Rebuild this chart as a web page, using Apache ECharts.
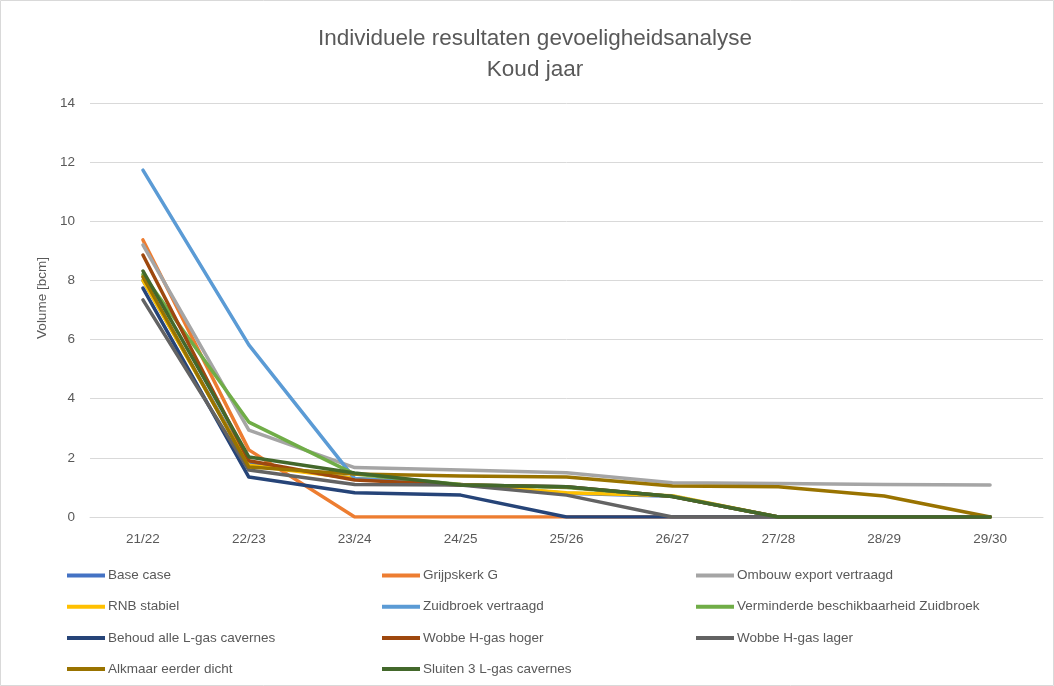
<!DOCTYPE html>
<html>
<head>
<meta charset="utf-8">
<script src="https://cdn.jsdelivr.net/npm/echarts@6/dist/echarts.min.js"></script>
<style>html,body{margin:0;padding:0;background:#fff}#c{width:1054px;height:686px}</style>
</head>
<body>
<div id="c"></div>
<script>
const categories = ['21/22','22/23','23/24','24/25','25/26','26/27','27/28','28/29','29/30'];
const seriesNames = ['Base case','Grijpskerk G','Ombouw export vertraagd','RNB stabiel','Zuidbroek vertraagd','Verminderde beschikbaarheid Zuidbroek','Behoud alle L-gas cavernes','Wobbe H-gas hoger','Wobbe H-gas lager','Alkmaar eerder dicht','Sluiten 3 L-gas cavernes'];
const baseCase      = [8.0, 1.8, 1.3, 1.1, 0.8, 0.7, 0, 0, 0];
const grijpskerk    = [9.37, 2.27, 0, 0, 0, 0, 0, 0, 0];
const ombouw        = [9.2, 2.94, 1.67, 1.59, 1.5, 1.16, 1.13, 1.1, 1.08];
const rnbStabiel    = [8.0, 1.75, 1.3, 1.1, 0.82, 0.72, 0, 0, 0];
const zuidbroek     = [11.73, 5.82, 1.3, 1.08, 1.02, 0.69, 0, 0, 0];
const verminderde   = [8.2, 3.21, 1.45, 1.1, 1.0, 0.7, 0, 0, 0];
const behoud        = [7.74, 1.35, 0.82, 0.74, 0, 0, 0, 0, 0];
const wobbeHoger    = [8.86, 1.9, 1.25, 1.08, 1.02, 0.69, 0, 0, 0];
const wobbeLager    = [7.34, 1.59, 1.1, 1.08, 0.74, 0, 0, 0, 0];
const alkmaar       = [8.12, 1.69, 1.45, 1.39, 1.35, 1.05, 1.02, 0.71, 0];
const sluiten       = [8.32, 2.03, 1.49, 1.08, 1.02, 0.69, 0, 0, 0];
const yTicks = [0, 2, 4, 6, 8, 10, 12, 14];

const allData = [baseCase, grijpskerk, ombouw, rnbStabiel, zuidbroek, verminderde, behoud, wobbeHoger, wobbeLager, alkmaar, sluiten];
const colors = ['#4472C4','#ED7D31','#A5A5A5','#FFC000','#5B9BD5','#70AD47','#264478','#9E480E','#636363','#997300','#43682B'];
const font = 'Liberation Sans';

const chart = echarts.init(document.getElementById('c'));
const legendCommon = {
  orient: 'vertical', top: 568, padding: 0, icon: 'rect', itemWidth: 38, itemHeight: 4, itemGap: 16.2,
  selectedMode: false,
  textStyle: { color: '#595959', fontFamily: font, fontSize: 13.5, lineHeight: 15, padding: [0,0,0,-2] }
};
chart.setOption({
  animation: false,
  color: colors,
  title: {
    text: 'Individuele resultaten gevoeligheidsanalyse\nKoud jaar',
    left: 530, top: 18, padding: 5, textAlign: 'center',
    textStyle: { color: '#595959', fontFamily: font, fontSize: 22.5, fontWeight: 'normal', lineHeight: 31 }
  },
  legend: [
    Object.assign({ left: 67, data: [seriesNames[0], seriesNames[3], seriesNames[6], seriesNames[9]] }, legendCommon),
    Object.assign({ left: 382, data: [seriesNames[1], seriesNames[4], seriesNames[7], seriesNames[10]] }, legendCommon),
    Object.assign({ left: 696, data: [seriesNames[2], seriesNames[5], seriesNames[8]] }, legendCommon)
  ],
  grid: { left: 90, right: 11, top: 103, bottom: 169 },
  xAxis: {
    type: 'category', data: categories, boundaryGap: true,
    axisLine: { lineStyle: { color: '#D9D9D9', width: 1 } },
    axisTick: { show: false },
    axisLabel: { color: '#595959', fontFamily: font, fontSize: 13.5, margin: 15 }
  },
  yAxis: {
    type: 'value', min: 0, max: 14, interval: 2,
    name: 'Volume [bcm]', nameLocation: 'middle', nameGap: 37, nameRotate: 90,
    nameTextStyle: { color: '#595959', fontFamily: font, fontSize: 13.5, padding: [0, 0, 0, 24] },
    axisLine: { show: false }, axisTick: { show: false },
    axisLabel: { color: '#595959', fontFamily: font, fontSize: 13.5, margin: 15,
      formatter: v => yTicks.includes(v) ? String(v) : '' },
    splitLine: { lineStyle: { color: '#D9D9D9', width: 1 } }
  },
  graphic: [{ type: 'rect', shape: { x: 0.5, y: 0.5, width: 1053, height: 685 }, style: { fill: 'none', stroke: '#D9D9D9', lineWidth: 1 }, silent: true }],
  series: seriesNames.map((n, i) => ({
    name: n, type: 'line', data: allData[i], symbol: 'none', smooth: false,
    lineStyle: { width: 3.5, color: colors[i], cap: 'round', join: 'round' },
    itemStyle: { color: colors[i] }
  }))
});
</script>
</body>
</html>
